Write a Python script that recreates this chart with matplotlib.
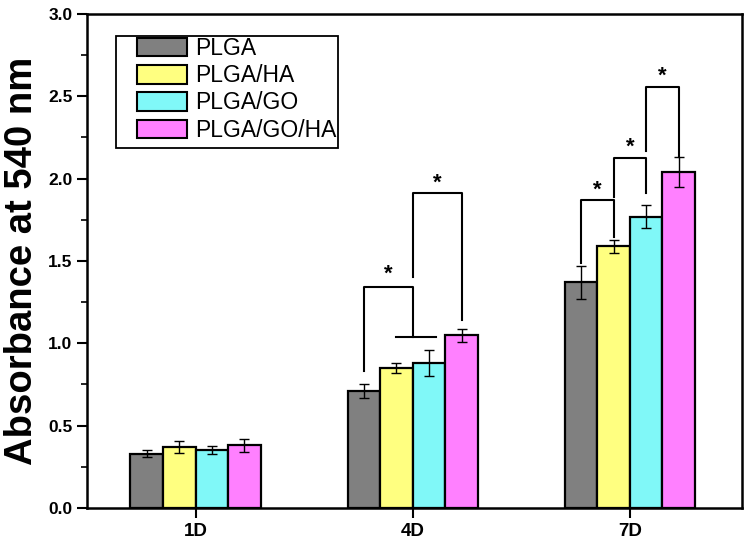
import matplotlib
matplotlib.use("Agg")
import matplotlib.pyplot as plt
from matplotlib.patches import Rectangle
import numpy as np

plt.rcParams['font.family'] = ['Liberation Sans', 'DejaVu Sans']

days = ['1D', '4D', '7D']
series = ['PLGA', 'PLGA/HA', 'PLGA/GO', 'PLGA/GO/HA']
values = {
    'PLGA':       [0.33, 0.71, 1.37],
    'PLGA/HA':    [0.37, 0.85, 1.59],
    'PLGA/GO':    [0.35, 0.88, 1.77],
    'PLGA/GO/HA': [0.38, 1.05, 2.04],
}
errors = {
    'PLGA':       [0.02, 0.045, 0.10],
    'PLGA/HA':    [0.035, 0.03, 0.04],
    'PLGA/GO':    [0.025, 0.08, 0.07],
    'PLGA/GO/HA': [0.04, 0.04, 0.09],
}
colors = ['#808080', '#ffff80', '#80f8f8', '#ff80ff']

# significance brackets: (group, left bar pos, right bar pos, y left foot, y top, y right foot)
# bar pos: 0..3 = bar index, 1.5 = between bars 1 and 2
brackets = [
    (1, 0, 1.5, 0.83, 1.34, 1.04),
    (1, 1.5, 3, 1.40, 1.91, 1.14),
    (2, 0, 1, 1.49, 1.87, 1.645),
    (2, 1, 2, 1.89, 2.125, 1.91),
    (2, 2, 3, 2.17, 2.555, 2.13),
]
star_y = [1.42, 1.97, 1.93, 2.19, 2.62]
hline_4d = (1, 1, 2, 1.04)  # group, bar a, bar b, y

fig = plt.figure(figsize=(7.5, 5.49), dpi=100)
ax = fig.add_axes([0.116, 0.0747, 0.873, 0.8998])

x = np.arange(len(days))
w = 0.15
def bx(g, pos):
    return g + (pos - 1.5) * w

for i, s in enumerate(series):
    xs = x + (i - 1.5) * w
    ax.bar(xs, values[s], width=w, color=colors[i], edgecolor='black',
           linewidth=1.6, label=s, zorder=2)
    ax.errorbar(xs, values[s], yerr=errors[s], fmt='none', ecolor='black',
                elinewidth=1.0, capsize=3.5, capthick=1.0, zorder=3)

for (g, a, b, y1, yt, y2), sy in zip(brackets, star_y):
    xa, xb = bx(g, a), bx(g, b)
    ax.plot([xa, xa, xb, xb], [y1, yt, yt, y2], color='black', lw=1.5, zorder=4)
    ax.text((xa + xb) / 2, sy, '*', ha='center', va='center', fontsize=16,
            fontweight='bold', zorder=5)
g, a, b, yh = hline_4d
ax.plot([bx(g, a), bx(g, b) + 0.03], [yh, yh], color='black', lw=1.5, zorder=4)

ax.set_xlim(-0.5, 2.515)
ax.set_ylim(0, 3.0)
ax.set_xticks(x)
ax.set_xticklabels(days, fontsize=13.5, fontweight='bold')
ax.set_yticks(np.arange(0, 3.01, 0.5))
ax.set_yticklabels([f'{v:.1f}' for v in np.arange(0, 3.01, 0.5)], fontsize=12.5,
                   fontweight='bold')
ax.set_yticks(np.arange(0.25, 3.0, 0.5), minor=True)
ax.tick_params(axis='y', which='major', direction='out', length=7, width=1.5, right=False)
ax.tick_params(axis='y', which='minor', direction='out', length=4, width=1.2)
ax.tick_params(axis='x', which='major', direction='out', length=7, width=1.5, pad=4)
for sp in ax.spines.values():
    sp.set_linewidth(1.8)
ax.set_ylabel('Absorbance at 540 nm', fontsize=27.5, fontweight='bold', labelpad=6)

leg = ax.legend(loc='upper left', bbox_to_anchor=(0.076, 0.953), fontsize=16.5,
                frameon=False, handlelength=2.2, handleheight=0.85, labelspacing=0.18,
                handletextpad=0.35, borderpad=0.0, borderaxespad=0.0)
for p in leg.get_patches():
    p.set_linewidth(1.5)
ax.add_patch(Rectangle((0.0443, 0.729), 0.339, 0.226, transform=ax.transAxes,
                       fill=False, edgecolor='black', linewidth=1.3, zorder=6))

fig.savefig('out.png', dpi=100)
